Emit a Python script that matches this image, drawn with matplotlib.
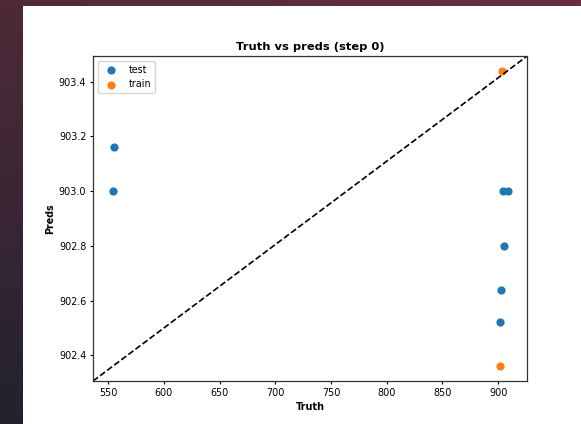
import numpy as np
import matplotlib
matplotlib.use("Agg")
import matplotlib.pyplot as plt

# truth / prediction pairs
test_truth = [555.4, 554.0, 904.0, 908.5, 905.0, 903.0, 902.0]
test_preds = [903.16, 903.0, 903.0, 903.0, 902.8, 902.64, 902.52]
train_truth = [903.3, 902.0]
train_preds = [903.44, 902.36]

# everything shrunk to ~0.69 of the defaults
k = 0.69
plt.rcParams['font.size'] = 10 * k
plt.rcParams['xtick.major.size'] = 3.5 * k
plt.rcParams['ytick.major.size'] = 3.5 * k
plt.rcParams['xtick.major.width'] = 0.8
plt.rcParams['ytick.major.width'] = 0.8
plt.rcParams['xtick.major.pad'] = 3.5 * k
plt.rcParams['ytick.major.pad'] = 3.5 * k
plt.rcParams['axes.labelpad'] = 4 * k
plt.rcParams['axes.linewidth'] = 0.9
plt.rcParams['axes.edgecolor'] = '#333333'

fig = plt.figure(figsize=(5.81, 4.24), dpi=100)

# dark window frame around the plot
bg = fig.add_axes([0, 0, 1, 1], zorder=-10)
bg.set_axis_off()
left = np.linspace(0, 1, 100)[:, None]
cmap_left = matplotlib.colors.LinearSegmentedColormap.from_list('l', ['#4e2a38', '#3a2634', '#22222e'])
bg.imshow(left, cmap=cmap_left, extent=[0, 23, 424, 0], aspect='auto')
top = np.linspace(0, 1, 100)[None, :]
cmap_top = matplotlib.colors.LinearSegmentedColormap.from_list('t', ['#4e2a38', '#5c2c3c', '#6a2e40'])
bg.imshow(top, cmap=cmap_top, extent=[0, 581, 6, 0], aspect='auto')
bg.set_xlim(0, 581)
bg.set_ylim(424, 0)

ax = fig.add_axes([0.1601, 0.1014, 0.9076 - 0.1601, 0.868 - 0.1014])
ax.scatter(test_truth, test_preds, s=24, color='#1f77b4', label='test')
ax.scatter(train_truth, train_preds, s=24, color='#ff7f0e', label='train')
ax.plot([0, 1], [0, 1], 'k--', transform=ax.transAxes, linewidth=1.2)

ax.set_xticks([550, 600, 650, 700, 750, 800, 850, 900])
ax.set_yticks([902.4, 902.6, 902.8, 903.0, 903.2, 903.4])
ax.yaxis.set_major_formatter(matplotlib.ticker.FormatStrFormatter('%.1f'))
ax.set_xlabel('Truth', fontweight='bold')
ax.set_ylabel('Preds', fontweight='bold')
ax.set_title('Truth vs preds (step 0)', fontweight='bold', fontsize=12 * k, pad=6 * k)
ax.legend(loc='upper left')

fig.savefig('out.png', dpi=100)
